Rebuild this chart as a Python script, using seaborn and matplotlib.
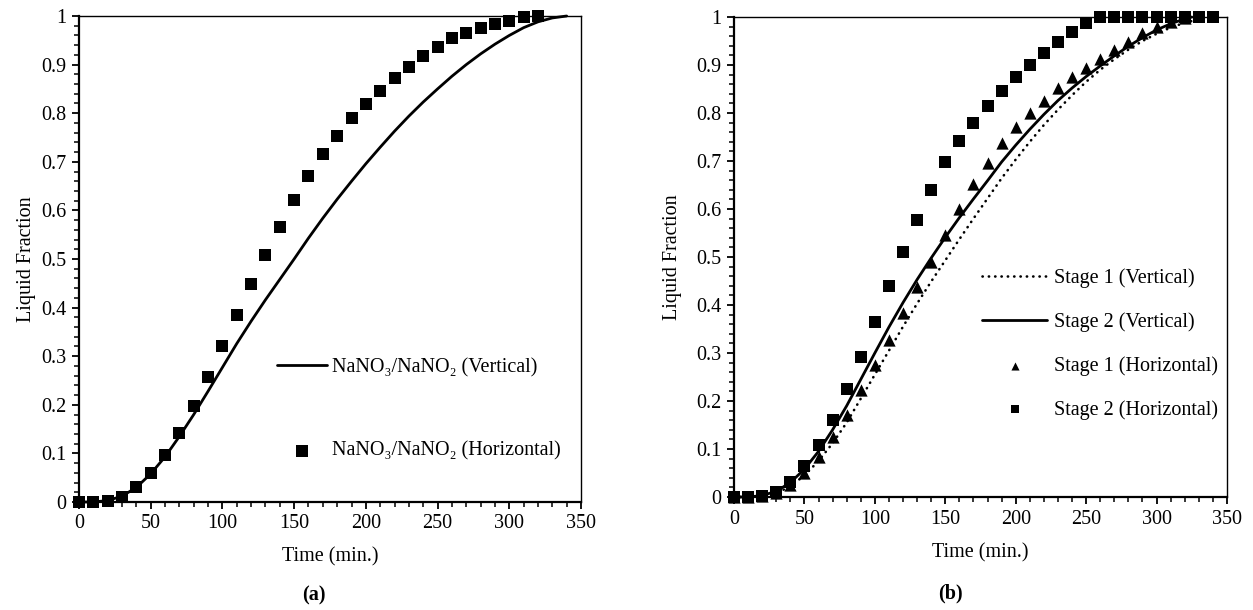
import matplotlib
matplotlib.use("Agg")
import matplotlib.pyplot as plt
import seaborn as sns
import numpy as np
import pandas as pd
from matplotlib.ticker import MultipleLocator, FuncFormatter

# ---------------- data ----------------
# Panel (a)
time_a_horizontal = list(range(0, 330, 10))
frac_a_horizontal = [0, 0, 0.003, 0.01, 0.03, 0.06, 0.097, 0.143, 0.198, 0.258, 0.322,
                     0.385, 0.449, 0.508, 0.566, 0.621, 0.670, 0.716, 0.753, 0.79, 0.819,
                     0.846, 0.872, 0.895, 0.918, 0.936, 0.955, 0.965, 0.975, 0.983, 0.99,
                     0.997, 1.0]
time_a_vertical = list(range(0, 350, 10))
frac_a_vertical = [0, 0, 0.003, 0.012, 0.03, 0.058, 0.093, 0.135, 0.18, 0.228, 0.277,
                   0.326, 0.372, 0.416, 0.458, 0.50, 0.543, 0.584, 0.623, 0.660, 0.696,
                   0.730, 0.763, 0.794, 0.823, 0.850, 0.876, 0.900, 0.922, 0.942, 0.960,
                   0.976, 0.988, 0.996, 1.0]

# Panel (b)
time_b_stage1_vertical = list(range(0, 350, 10))
frac_b_stage1_vertical = [0, 0, 0.002, 0.008, 0.022, 0.045, 0.075, 0.112, 0.155, 0.205, 0.255,
                          0.305, 0.355, 0.403, 0.449, 0.493, 0.537, 0.58, 0.622, 0.664, 0.703,
                          0.74, 0.775, 0.807, 0.837, 0.865, 0.89, 0.912, 0.932, 0.95, 0.965,
                          0.978, 0.988, 0.995, 1.0]
time_b_stage2_vertical = list(range(0, 330, 10)) + [325]
frac_b_stage2_vertical = [0, 0, 0.003, 0.012, 0.03, 0.058, 0.095, 0.14, 0.19, 0.245, 0.3,
                          0.354, 0.405, 0.453, 0.498, 0.541, 0.582, 0.621, 0.659, 0.698, 0.733,
                          0.766, 0.797, 0.826, 0.852, 0.876, 0.898, 0.919, 0.939, 0.957, 0.973,
                          0.986, 0.996, 1.0]
time_b_stage1_horizontal = list(range(0, 330, 10))
frac_b_stage1_horizontal = [0, 0, 0.002, 0.008, 0.025, 0.05, 0.083, 0.125, 0.171, 0.223, 0.275,
                            0.327, 0.383, 0.438, 0.49, 0.545, 0.60, 0.652, 0.695, 0.737, 0.771,
                            0.80, 0.826, 0.852, 0.875, 0.893, 0.912, 0.931, 0.948, 0.966, 0.979,
                            0.99, 0.998]
time_b_stage2_horizontal = list(range(0, 350, 10))
frac_b_stage2_horizontal = [0, 0, 0.002, 0.01, 0.031, 0.065, 0.108, 0.16, 0.225, 0.292, 0.365,
                            0.44, 0.51, 0.577, 0.64, 0.697, 0.742, 0.78, 0.815, 0.846, 0.875,
                            0.9, 0.925, 0.948, 0.969, 0.988, 1.0, 1.0, 1.0, 1.0, 1.0,
                            1.0, 1.0, 1.0, 1.0]

x_ticks = [0, 50, 100, 150, 200, 250, 300, 350]
y_ticks = [0, 0.1, 0.2, 0.3, 0.4, 0.5, 0.6, 0.7, 0.8, 0.9, 1.0]

label_a_vertical = "NaNO\u2083/NaNO\u2082 (Vertical)"
label_a_horizontal = "NaNO\u2083/NaNO\u2082 (Horizontal)"
labels_b = ["Stage 1 (Vertical)", "Stage 2 (Vertical)",
            "Stage 1 (Horizontal)", "Stage 2 (Horizontal)"]

# ---------------- style ----------------
sns.set_theme(style="white")
plt.rcParams["font.family"] = ["Liberation Serif", "DejaVu Serif"]
plt.rcParams["font.size"] = 14.5
plt.rcParams["axes.edgecolor"] = "black"
plt.rcParams["text.color"] = "black"
plt.rcParams["axes.labelcolor"] = "black"
plt.rcParams["xtick.color"] = "black"
plt.rcParams["ytick.color"] = "black"

FS = 14.5
fig = plt.figure(figsize=(12.53, 6.10), dpi=100)
W, H = 1253, 610


def axes_px(l, t, r, b):
    return fig.add_axes([l / W, 1 - b / H, (r - l) / W, (b - t) / H])


ax_a = axes_px(79, 16, 581, 502)
ax_b = axes_px(734, 17, 1227, 497)


def style_axes(ax):
    ax.set_xlim(0, 350)
    ax.set_ylim(0, 1)
    ax.set_xticks(x_ticks)
    ax.set_yticks(y_ticks)
    ax.xaxis.set_minor_locator(MultipleLocator(10))
    ax.yaxis.set_minor_locator(MultipleLocator(0.02))
    ax.yaxis.set_major_formatter(FuncFormatter(lambda v, p: f"{v:g}"))
    ax.xaxis.set_major_formatter(FuncFormatter(lambda v, p: f"{v:g}"))
    ax.tick_params(axis="both", which="major", direction="out", length=5, width=1.3,
                   labelsize=FS, top=False, right=False, bottom=True, left=True, pad=4)
    ax.tick_params(axis="both", which="minor", direction="out", length=3.5, width=1.1,
                   top=False, right=False, bottom=True, left=True)
    for side in ["left", "bottom"]:
        ax.spines[side].set_linewidth(1.6)
        ax.spines[side].set_color("black")
    for side in ["top", "right"]:
        ax.spines[side].set_linewidth(1.0)
        ax.spines[side].set_color("black")
    ax.grid(False)


# ---------------- panel (a) ----------------
sns.lineplot(x=time_a_vertical, y=frac_a_vertical, ax=ax_a, color="black", linewidth=2.0,
             label=label_a_vertical, clip_on=False, zorder=3)
sns.scatterplot(x=time_a_horizontal, y=frac_a_horizontal, ax=ax_a, marker="s", s=82,
                color="black", edgecolor="black", linewidth=0, label=label_a_horizontal,
                clip_on=False, zorder=4)
style_axes(ax_a)

# ---------------- panel (b) ----------------
sns.lineplot(x=time_b_stage1_vertical, y=frac_b_stage1_vertical, ax=ax_b, color="black",
             linewidth=1.9, linestyle=(0, (0.1, 2.3)), dash_capstyle="round",
             label=labels_b[0], clip_on=False, zorder=3)
sns.lineplot(x=time_b_stage2_vertical, y=frac_b_stage2_vertical, ax=ax_b, color="black",
             linewidth=2.0, label=labels_b[1], clip_on=False, zorder=3)
sns.scatterplot(x=time_b_stage1_horizontal, y=frac_b_stage1_horizontal, ax=ax_b, marker="^",
                s=78, color="black", edgecolor="black", linewidth=0, label=labels_b[2],
                clip_on=False, zorder=4)
sns.scatterplot(x=time_b_stage2_horizontal, y=frac_b_stage2_horizontal, ax=ax_b, marker="s",
                s=82, color="black", edgecolor="black", linewidth=0, label=labels_b[3],
                clip_on=False, zorder=5)
style_axes(ax_b)

# ---------------- labels ----------------
for ax, xl_y, yl_x in [(ax_a, -0.113, -0.104), (ax_b, -0.117, -0.124)]:
    ax.set_xlabel("Time (min.)", fontsize=FS)
    ax.set_ylabel("Liquid Fraction", fontsize=FS)
    ax.xaxis.set_label_coords(0.5, xl_y)
    ax.yaxis.set_label_coords(yl_x, 0.5)
    ax.xaxis.label.set_va("center")
    ax.yaxis.label.set_va("center")

fig.text(314 / W, 1 - 595 / H, "(a)", fontsize=FS, fontweight="bold", ha="center", va="center")
fig.text(950 / W, 1 - 593 / H, "(b)", fontsize=FS, fontweight="bold", ha="center", va="center")

# ---------------- legends ----------------
leg_a = ax_a.legend(loc="center left", bbox_to_anchor=(277 / W, 1 - 409.5 / H),
                    bbox_transform=fig.transFigure, frameon=False, fontsize=FS,
                    handlelength=2.5, handletextpad=0.25, labelspacing=3.2,
                    borderpad=0, borderaxespad=0)
for h in leg_a.legend_handles:
    if hasattr(h, "set_sizes"):
        h.set_sizes([64])

leg_b = ax_b.legend(loc="center left", bbox_to_anchor=(982 / W, 1 - 344 / H),
                    bbox_transform=fig.transFigure, frameon=False, fontsize=FS,
                    handlelength=3.25, handletextpad=0.35, labelspacing=1.2,
                    borderpad=0, borderaxespad=0)
for h in leg_b.legend_handles:
    if hasattr(h, "set_sizes"):
        h.set_sizes([34])

fig.savefig("out.png", dpi=100)
